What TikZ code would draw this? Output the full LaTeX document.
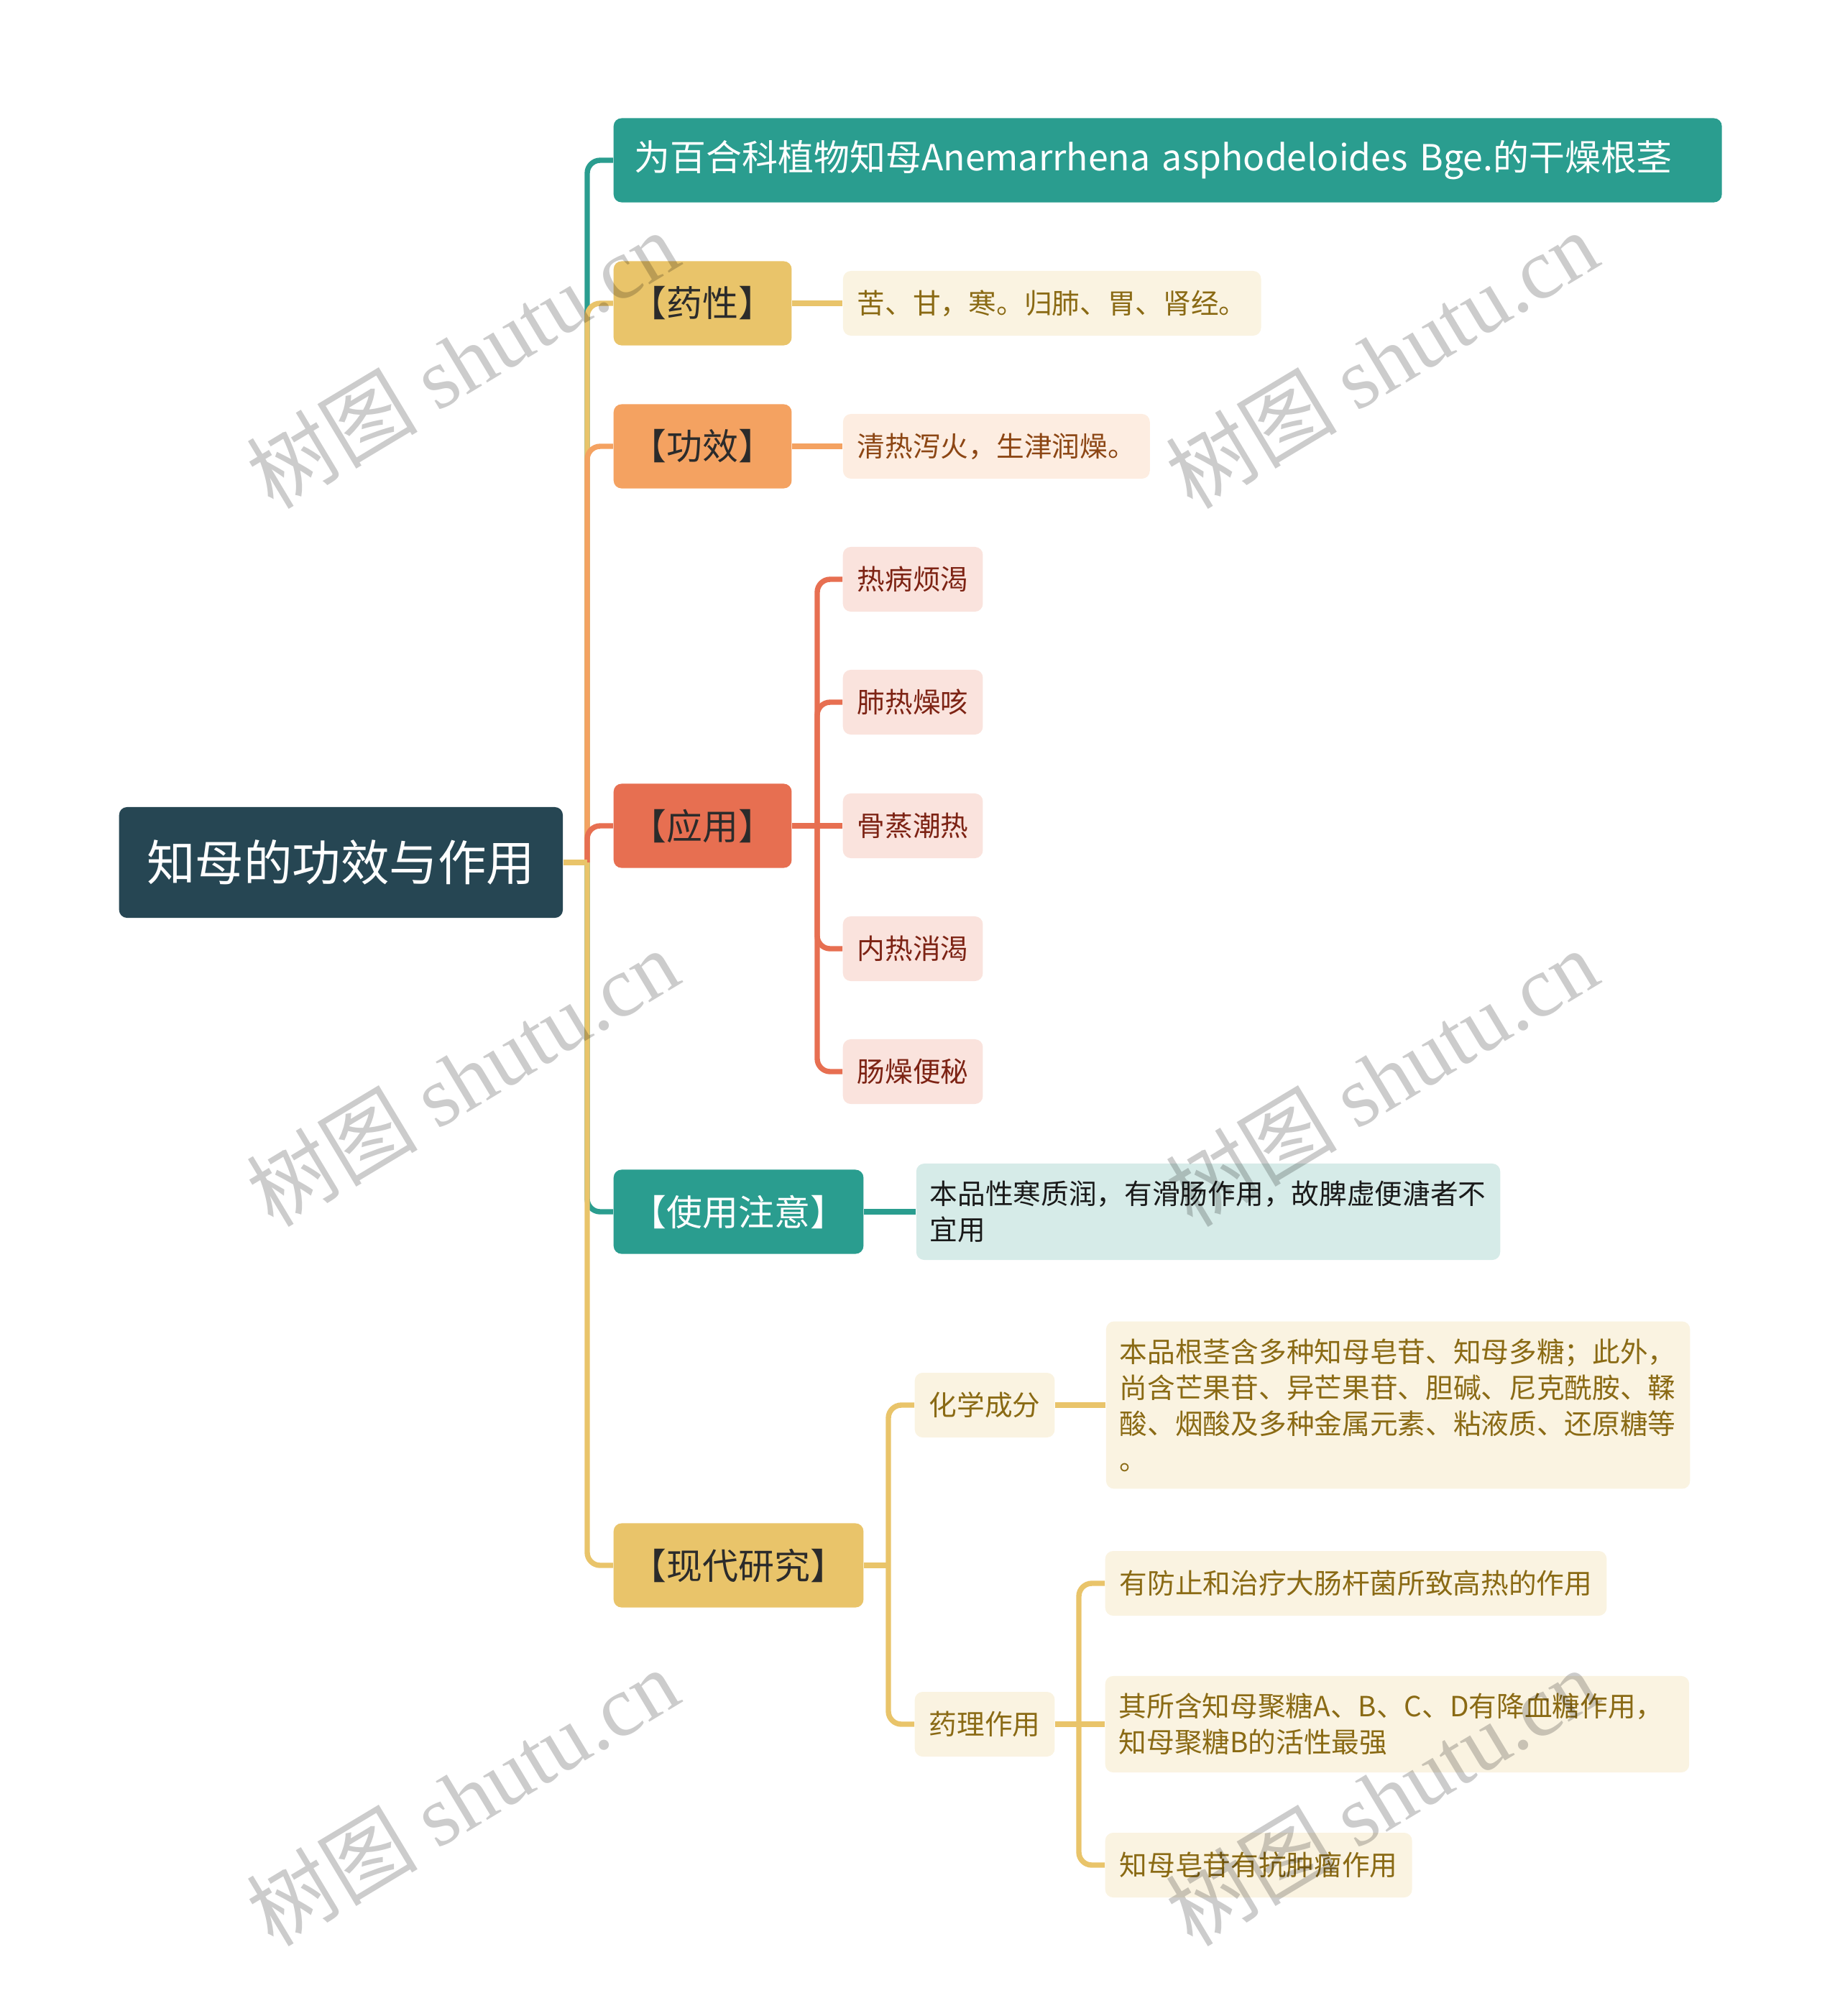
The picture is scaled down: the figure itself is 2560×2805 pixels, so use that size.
\documentclass[tikz,border=0pt]{standalone}
\usepackage{fontspec}
\setmainfont{Noto Sans CJK SC}
\newfontfamily\wmfont{Liberation Serif}
\usepackage{tikz}
\usetikzlibrary{positioning}
\definecolor{cRoot}{HTML}{264653}
\definecolor{cTeal}{HTML}{2A9D8F}
\definecolor{cYel}{HTML}{E9C46A}
\definecolor{cOra}{HTML}{F4A261}
\definecolor{cRed}{HTML}{E76F51}
\definecolor{cInk}{HTML}{2B2B2B}
\definecolor{fYel}{HTML}{FAF3E1}
\definecolor{fOra}{HTML}{FDEDE1}
\definecolor{fRed}{HTML}{FAE3DD}
\definecolor{fTeal}{HTML}{D6EBE8}
\definecolor{tYel}{HTML}{8A6A14}
\definecolor{tOra}{HTML}{8C4614}
\definecolor{tRed}{HTML}{7D2314}
\definecolor{tTeal}{HTML}{1A1A1A}
\newcommand{\fsroot}{\fontsize{19.2}{23}\selectfont}
\newcommand{\fsmain}{\fontsize{14.2}{17}\selectfont}
\newcommand{\fsleaf}{\fontsize{11}{14.2}\selectfont}
\tikzset{
  blk/.style={rounded corners=0.11cm, anchor=west, inner ysep=0.24cm},
  rootb/.style={blk, fill=cRoot, text=white, font=\fsroot,
                minimum width=6.17cm, minimum height=1.54cm},
  mainb/.style={blk, font=\fsmain, minimum height=1.17cm, inner xsep=0.24cm},
  tealb/.style={mainb, fill=cTeal, text=white},
  yelb/.style={mainb, fill=cYel, text=cInk},
  orab/.style={mainb, fill=cOra, text=cInk},
  redb/.style={mainb, fill=cRed, text=cInk},
  leaf/.style={blk, font=\fsleaf, minimum height=0.9cm, inner xsep=0.2cm, align=left},
  yell/.style={leaf, fill=fYel, text=tYel},
  oral/.style={leaf, fill=fOra, text=tOra},
  redl/.style={leaf, fill=fRed, text=tRed},
  teall/.style={leaf, fill=fTeal, text=tTeal},
  wide/.style={text width=7.74cm, inner xsep=0.19cm},
  lk/.style={line width=2.1pt, rounded corners=0.18cm},
  wm/.style={font=\fontsize{34}{34}\selectfont, rotate=31, text=black, text opacity=0.2},
}

\begin{document}
\begin{tikzpicture}[x=0.01cm, y=-0.01cm]
  \useasboundingbox (0,0) rectangle (2560,2805);
  \node[rootb] (km) at (165,1200) {知母的功效与作用};
  \coordinate (rj) at (817,1200);

  \node[tealb, text width=14.83cm, align=left, inner xsep=0.29cm] (src) at (853,223)
    {为百合科植物知母Anemarrhena asphodeloides Bge.的干燥根茎};
  \node[yelb] (yx) at (853,422) {【药性】};
  \node[yell, right=0.7cm of yx] (yxl) {苦、甘，寒。归肺、胃、肾经。};
  \node[orab] (gx) at (853,621) {【功效】};
  \node[oral, right=0.7cm of gx] (gxl) {清热泻火，生津润燥。};

  \node[redb] (yy) at (853,1149) {【应用】};
  \coordinate (yyj) at (1137,1149);
  \node[redl] (yy1) at (1172,806) {热病烦渴};
  \node[redl] (yy2) at (1172,977) {肺热燥咳};
  \node[redl] (yy3) at (1172,1149) {骨蒸潮热};
  \node[redl] (yy4) at (1172,1320) {内热消渴};
  \node[redl] (yy5) at (1172,1491) {肠燥便秘};

  \node[tealb] (zy) at (853,1686) {【使用注意】};
  \node[teall, wide, right=0.72cm of zy] (zyl)
    {本品性寒质润，有滑肠作用，故脾虚便溏者不\\宜用};

  \node[yelb] (xd) at (853,2178) {【现代研究】};
  \coordinate (xdj) at (1236,2178);
  \node[yell] (hx) at (1272,1955) {化学成分};
  \node[yell, wide, right=0.7cm of hx] (hxl)
    {本品根茎含多种知母皂苷、知母多糖；此外，\\尚含芒果苷、异芒果苷、胆碱、尼克酰胺、鞣\\酸、烟酸及多种金属元素、粘液质、还原糖等\\。};
  \node[yell] (yl) at (1272,2399) {药理作用};
  \coordinate (ylj) at (1501,2399);
  \node[yell] (yl1) at (1537,2203) {有防止和治疗大肠杆菌所致高热的作用};
  \node[yell, wide] (yl2) at (1537,2399)
    {其所含知母聚糖A、B、C、D有降血糖作用，\\知母聚糖B的活性最强};
  \node[yell] (yl3) at (1537,2595) {知母皂苷有抗肿瘤作用};

  \draw[lk, cTeal] (rj) |- (src.west);
  \draw[lk, cYel] (rj) |- (yx.west);
  \draw[lk, cOra] (rj) |- (gx.west);
  \draw[lk, cRed] (rj) |- (yy.west);
  \draw[lk, cTeal] (rj) |- (zy.west);
  \draw[lk, cYel] (rj) |- (xd.west);
  \draw[lk, cYel] (km.east) -- (rj);

  \draw[lk, cYel] (yx) -- (yxl);
  \draw[lk, cOra] (gx) -- (gxl);
  \draw[lk, cRed] (yy.east) -- (yyj);
  \draw[lk, cRed] (yyj) |- (yy1.west);
  \draw[lk, cRed] (yyj) |- (yy2.west);
  \draw[lk, cRed] (yyj) -- (yy3.west);
  \draw[lk, cRed] (yyj) |- (yy4.west);
  \draw[lk, cRed] (yyj) |- (yy5.west);
  \draw[lk, cTeal] (zy) -- (zyl);
  \draw[lk, cYel] (xd.east) -- (xdj);
  \draw[lk, cYel] (xdj) |- (hx.west);
  \draw[lk, cYel] (xdj) |- (yl.west);
  \draw[lk, cYel] (hx) -- (hxl);
  \draw[lk, cYel] (yl.east) -- (ylj);
  \draw[lk, cYel] (ylj) |- (yl1.west);
  \draw[lk, cYel] (ylj) -- (yl2.west);
  \draw[lk, cYel] (ylj) |- (yl3.west);

  \node[wm] (wm1) at (643,500) {树图 {\wmfont shutu.cn}};
  \node[wm] (wm2) at (1922,500) {树图 {\wmfont shutu.cn}};
  \node[wm] (wm3) at (643,1499) {树图 {\wmfont shutu.cn}};
  \node[wm] (wm4) at (1922,1499) {树图 {\wmfont shutu.cn}};
  \node[wm] (wm5) at (643,2500) {树图 {\wmfont shutu.cn}};
  \node[wm] (wm6) at (1922,2500) {树图 {\wmfont shutu.cn}};
\end{tikzpicture}
\end{document}
